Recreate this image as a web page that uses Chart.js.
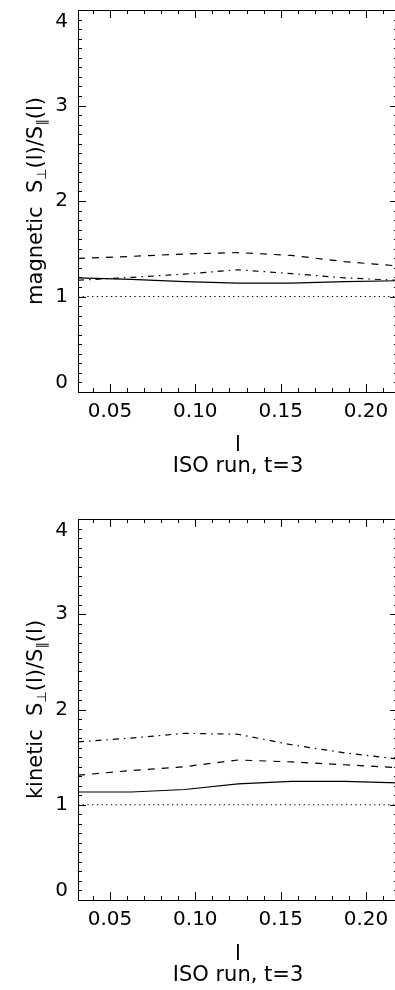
<!DOCTYPE html>
<html>
<head>
<meta charset="utf-8">
<title>ISO run, t=3</title>
<script src="https://cdn.jsdelivr.net/npm/chart.js@4.4.1/dist/chart.umd.min.js"></script>
<style>
    html, body { margin: 0; padding: 0; background: #fff; overflow: hidden; }
    canvas { display: block; }
</style>
</head>
<body>
<canvas id="magChart" width="398" height="495"></canvas>
<canvas id="kinChart" width="398" height="495"></canvas>
<script>
// Scale lengths l (1/32 ... 7/32)
var scaleL = [0.03125, 0.0625, 0.09375, 0.125, 0.15625, 0.1875, 0.21875];

// Magnetic S_perp(l)/S_par(l)
var magSolid = [1.195, 1.18, 1.155, 1.14, 1.14, 1.155, 1.165];
var magDashed = [1.40, 1.42, 1.445, 1.46, 1.43, 1.365, 1.32];
var magDashDot = [1.17, 1.20, 1.235, 1.28, 1.24, 1.195, 1.17];

// Kinetic S_perp(l)/S_par(l)
var kinSolid = [1.134, 1.134, 1.16, 1.22, 1.245, 1.245, 1.23];
var kinDashed = [1.31, 1.36, 1.40, 1.47, 1.45, 1.42, 1.39];
var kinDashDot = [1.66, 1.70, 1.75, 1.74, 1.63, 1.545, 1.48];

// Isotropic reference level
var unity = [1, 1, 1, 1, 1, 1, 1];

var xTickValues = [0.05, 0.10, 0.15, 0.20];
var yTickValues = [0, 1, 2, 3, 4];
var xMinorStep = 0.01;
var yMinorStep = 0.1;

Chart.defaults.font.family = '"DejaVu Sans", sans-serif';
Chart.defaults.color = '#000';

/**
 * IDL style box: inward ticks on all four sides, y labels and y title.
 */
var idlAxes = {
    id: 'idlAxes',
    afterDraw: function(chart, args, opts) {
        var ctx = chart.ctx;
        var a = chart.chartArea;
        var xs = chart.scales.x;
        var ys = chart.scales.y;
        var v, p, len, i;

        ctx.save();
        ctx.strokeStyle = '#000';
        ctx.lineWidth = 1;
        ctx.strokeRect(Math.round(a.left) + 0.5, Math.round(a.top) + 0.5,
            Math.round(a.right - a.left), Math.round(a.bottom - a.top));

        ctx.beginPath();
        // x ticks, top and bottom
        for (i = Math.ceil(xs.min / xMinorStep); i * xMinorStep <= xs.max + 1e-9; i++) {
            v = i * xMinorStep;
            p = Math.round(xs.getPixelForValue(v)) + 0.5;
            len = (i % 5 === 0) ? 8 : 4;
            ctx.moveTo(p, a.bottom);
            ctx.lineTo(p, a.bottom - len);
            ctx.moveTo(p, a.top);
            ctx.lineTo(p, a.top + len);
        }
        // y ticks, left and right
        for (i = Math.ceil(ys.min / yMinorStep); i * yMinorStep <= ys.max + 1e-9; i++) {
            v = i * yMinorStep;
            p = Math.round(ys.getPixelForValue(v)) + 0.5;
            len = (i % 10 === 0) ? 8 : 4;
            ctx.moveTo(a.left, p);
            ctx.lineTo(a.left + len, p);
            ctx.moveTo(a.right, p);
            ctx.lineTo(a.right - len, p);
        }
        ctx.stroke();

        // y tick labels, kept inside the box at both ends
        ctx.font = '20px "DejaVu Sans"';
        ctx.fillStyle = '#000';
        ctx.textAlign = 'right';
        ctx.textBaseline = 'middle';
        yTickValues.forEach(function(val) {
            var y = ys.getPixelForValue(val);
            y = Math.max(a.top + 12, Math.min(a.bottom - 9, y));
            ctx.fillText(String(val), a.left - 10, y);
        });
        ctx.restore();

        drawYTitle(ctx, a, opts.prefix);
    }
};

/**
 * Rotated y title with subscripts.
 * @param {CanvasRenderingContext2D} ctx
 * @param {Object} area chart area
 * @param {String} prefix leading word
 */
function drawYTitle(ctx, area, prefix) {
    var big = '21px "DejaVu Sans"';
    var small = '13px "DejaVu Sans"';
    var parts = [
        {t: prefix + '  S', f: big, dy: 0},
        {t: '\u22A5', f: small, dy: 4},
        {t: '(l)/S', f: big, dy: 0},
        {t: '\u2225', f: small, dy: 4},
        {t: '(l)', f: big, dy: 0}
    ];
    var total = 0;
    parts.forEach(function(p) {
        ctx.font = p.f;
        p.w = ctx.measureText(p.t).width;
        total += p.w;
    });
    ctx.save();
    ctx.translate(42, (area.top + area.bottom) / 2);
    ctx.rotate(-Math.PI / 2);
    ctx.fillStyle = '#000';
    ctx.textAlign = 'left';
    ctx.textBaseline = 'alphabetic';
    var x = -total / 2;
    parts.forEach(function(p) {
        ctx.font = p.f;
        ctx.fillText(p.t, x, p.dy);
        x += p.w;
    });
    ctx.restore();
}

function toPoints(values) {
    return scaleL.map(function(l, i) {
        return {x: l, y: values[i]};
    });
}

function series(values, dash) {
    return {
        data: toPoints(values),
        borderColor: '#000',
        borderWidth: 1.2,
        borderDash: dash,
        pointRadius: 0,
        tension: 0,
        fill: false
    };
}

/**
 * Build one panel.
 * @param {String} id canvas id
 * @param {String} prefix y title word
 * @param {Array} solid
 * @param {Array} dashed
 * @param {Array} dashDot
 * @param {Number} top chart area top in canvas
 * @param {Number} bottom chart area bottom in canvas
 * @param {Number} titlePad x title bottom padding
 */
function makePanel(id, prefix, solid, dashed, dashDot, top, bottom, titlePad) {
    var canvas = document.getElementById(id);
    var height = canvas.height;
    return new Chart(canvas.getContext('2d'), {
        type: 'line',
        data: {
            datasets: [
                series(unity, [1.3, 3.4]),
                series(solid, []),
                series(dashed, [7, 7]),
                series(dashDot, [6, 5, 1.5, 5])
            ]
        },
        options: {
            responsive: false,
            animation: false,
            devicePixelRatio: 1,
            layout: {padding: {top: top, left: 0, right: 0, bottom: 0}},
            plugins: {
                legend: {display: false},
                tooltip: {enabled: false},
                idlAxes: {prefix: prefix}
            },
            scales: {
                x: {
                    type: 'linear',
                    min: scaleL[0],
                    max: scaleL[scaleL.length - 1],
                    grid: {display: false, drawTicks: false},
                    border: {display: false},
                    afterBuildTicks: function(scale) {
                        scale.ticks = xTickValues.map(function(v) {
                            return {value: v};
                        });
                    },
                    afterFit: function(scale) {
                        scale.height = height - bottom;
                    },
                    ticks: {
                        padding: 8,
                        maxRotation: 0,
                        font: {size: 20},
                        callback: function(v) {
                            return v.toFixed(2);
                        }
                    },
                    title: {
                        display: true,
                        text: ['l', 'ISO run, t=3'],
                        font: {size: 21, lineHeight: '21px'},
                        padding: {top: 0, bottom: titlePad}
                    }
                },
                y: {
                    type: 'linear',
                    min: 0,
                    max: 4,
                    grid: {display: false, drawTicks: false},
                    border: {display: false},
                    ticks: {display: false},
                    afterFit: function(scale) {
                        scale.width = 78;
                    }
                }
            }
        },
        plugins: [idlAxes]
    });
}

makePanel('magChart', 'magnetic', magSolid, magDashed, magDashDot, 10, 392, 17.5);
makePanel('kinChart', 'kinetic', kinSolid, kinDashed, kinDashDot, 24, 405, 3.5);
</script>
</body>
</html>
